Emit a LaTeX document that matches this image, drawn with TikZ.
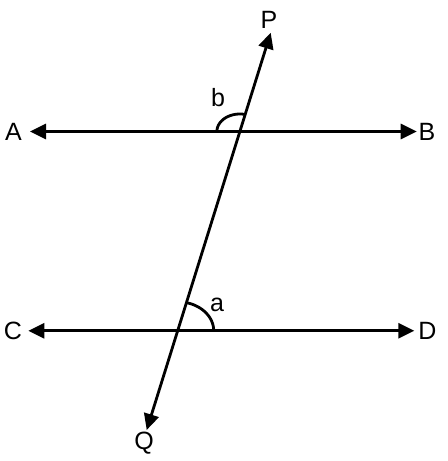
\documentclass[tikz,border=0pt]{standalone}
\usepackage{fontspec}
\setmainfont{Liberation Sans}
\usetikzlibrary{arrows.meta}
\begin{document}
\begin{tikzpicture}[x=1bp,y=-1bp,
  lineseg/.style={line width=2.8bp,draw=black},
  dbl/.style={lineseg,{Triangle[length=16bp,width=15bp]}-{Triangle[length=16bp,width=15bp]}},
  anglearc/.style={line width=2.8bp,draw=black},
  lbl/.style={inner sep=0pt,font=\fontsize{25bp}{29bp}\selectfont}]
\useasboundingbox (0,0) rectangle (448,461);
\coordinate (Atip) at (30,131.5);
\coordinate (Btip) at (416.7,131.5);
\coordinate (Ctip) at (28.3,330.8);
\coordinate (Dtip) at (414.3,330.8);
\coordinate (Ptip) at (270.7,32.7);
\coordinate (Qtip) at (146.7,430);
\coordinate (X1) at (239.9,131.5);
\coordinate (X2) at (177.7,330.8);
\draw[dbl] (Atip) -- (Btip);
\draw[dbl] (Ctip) -- (Dtip);
\draw[dbl] (Qtip) -- (Ptip);
\draw[anglearc] plot[domain=76.7:180,samples=40] ({239.9+23*cos(\x)},{131.5-17.5*sin(\x)});
\draw[anglearc] plot[domain=0:75.9,samples=40] ({177.7+36*cos(\x)},{330.8-29*sin(\x)});
\node[lbl] (A) at (13.5,132) {A};
\node[lbl] (B) at (427,132) {B};
\node[lbl] (C) at (13,331) {C};
\node[lbl] (D) at (427.5,331) {D};
\node[lbl] (P) at (269,20) {P};
\node[lbl] (Q) at (144,443) {Q};
\node[lbl] (b) at (218,98) {b};
\node[lbl] (a) at (217,305) {a};
\end{tikzpicture}
\end{document}
